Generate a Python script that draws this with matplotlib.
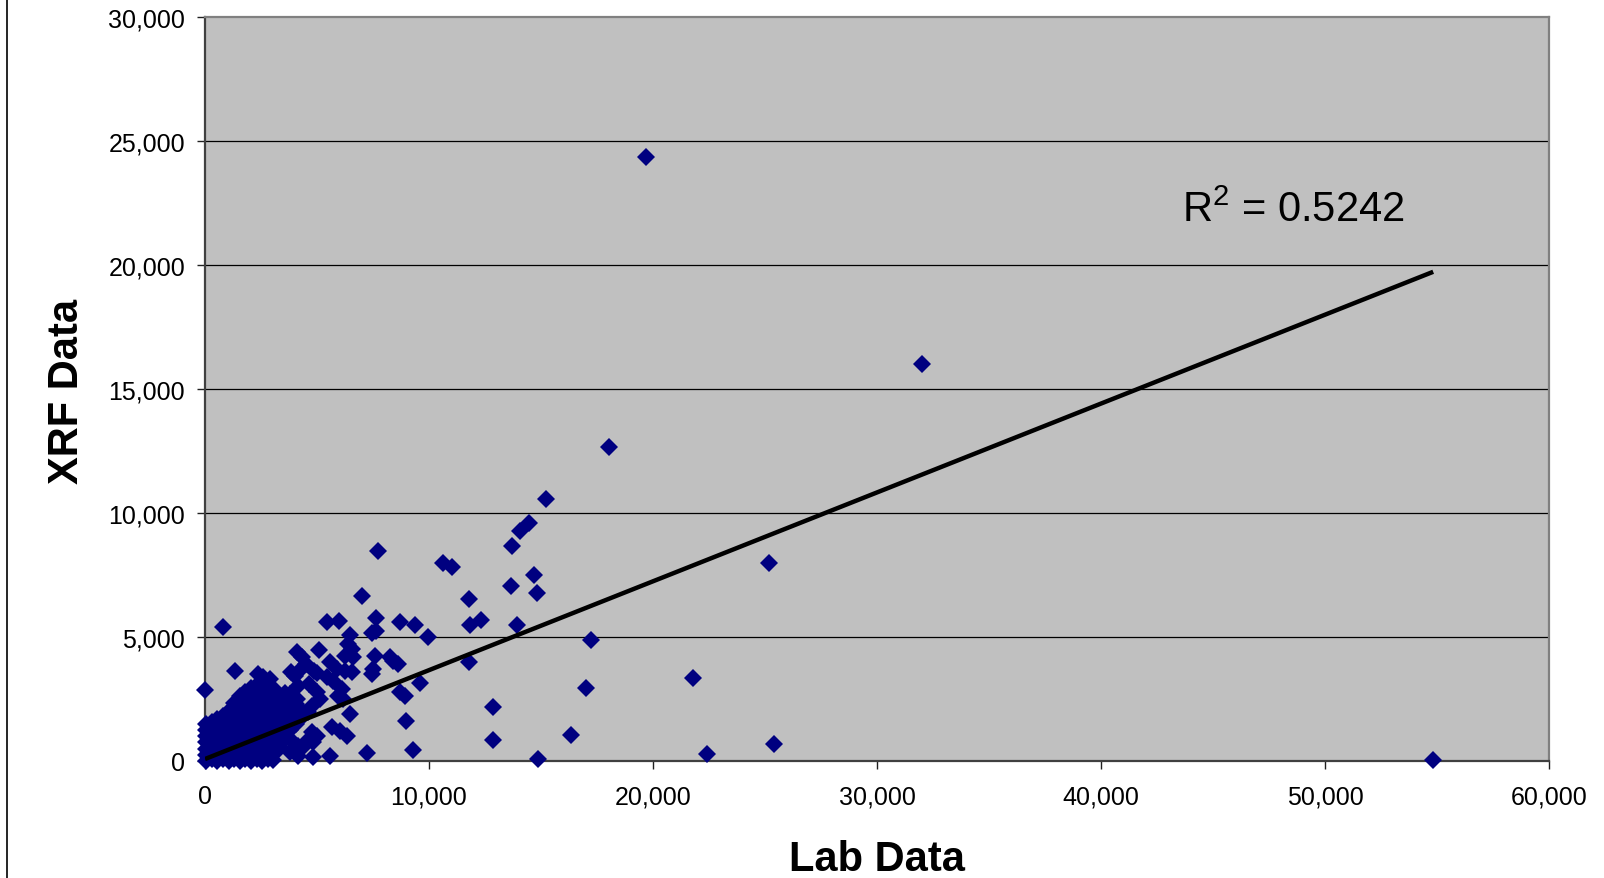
import matplotlib
matplotlib.use("Agg")
import matplotlib.pyplot as plt
from matplotlib.lines import Line2D
from matplotlib.ticker import FuncFormatter
import numpy as np

# ---------------- data ----------------
# dense cluster near the origin, column by column (Lab value -> XRF values)
core_lab_cols = [60, 300, 550, 800, 1050, 1300, 1550, 1800, 2050, 2300,
                 2550, 2800, 3050, 3300, 3550, 3800, 4050, 4300]
core_xrf_cols = [
    [0, 250, 500, 750, 1000, 1250, 1500],
    [100, 350, 600, 850, 1100, 1350, 1580],
    [0, 250, 500, 750, 1000, 1250, 1450, 1680],
    [100, 350, 600, 850, 1100, 1350, 1600, 1820],
    [0, 250, 500, 750, 1000, 1250, 1500, 1750, 2000],
    [100, 350, 600, 850, 1100, 1350, 1600, 1850, 2100, 2350],
    [0, 250, 500, 750, 1000, 1250, 1500, 1750, 2000, 2250, 2620],
    [100, 350, 600, 850, 1100, 1350, 1600, 1850, 2100, 2400, 2800],
    [0, 250, 500, 750, 1000, 1250, 1500, 1750, 2000, 2300, 2600, 2950],
    [100, 350, 600, 850, 1100, 1350, 1600, 1850, 2150, 2450, 2750, 3050],
    [0, 250, 500, 750, 1000, 1250, 1500, 1750, 2000, 2300, 2600, 2900, 3150],
    [100, 350, 600, 850, 1100, 1350, 1600, 1850, 2150, 2450, 2750, 3050],
    [50, 300, 550, 800, 1050, 1300, 1550, 1800, 2100, 2400, 2700, 2950],
    [500, 750, 1000, 1250, 1500, 1750, 2000, 2300, 2600],
    [900, 1150, 1400, 1650, 1900, 2150, 2450, 2750],
    [1250, 1500, 1750, 2000, 2300, 2650],
    [1500, 1750, 2000, 2300],
    [1750, 2000],
]

# scattered points around the cluster
mid_lab = [2903, 2367, 2590, 1355, 0, 790, 4120, 5090, 5570, 4500, 4390, 4850,
           5020, 3820, 4020, 4650, 4154, 4989, 5136, 4765, 3796, 4095, 4243, 4614,
           4319, 5434, 5730, 5882, 6253, 6552, 6105, 5954, 6177, 6476, 5657, 6029,
           6329, 4765, 4989, 4542, 4837, 3944, 4167, 4390, 3350, 3796, 4167, 3052,
           4837, 5583, 7221, 6476, 6400, 6552, 6253, 6623, 5434, 5985, 7637, 8700,
           9379, 7445, 7650, 7593, 8263, 8600, 8400, 7517, 7445, 3408, 3260]
mid_xrf = [3308, 3509, 3376, 3617, 2880, 5417, 4385, 4460, 4010, 3913, 3800, 3650,
           3570, 3610, 3441, 3100, 3037, 2771, 2501, 2230, 2703, 2501, 2098, 1964,
           4183, 3376, 3240, 3711, 3643, 3578, 2904, 2634, 2501, 1896, 1359, 1222,
           1021, 1158, 1021, 819, 754, 754, 617, 553, 553, 351, 214, 351,
           149, 214, 330, 5100, 4720, 4518, 4248, 4183, 5594, 5635, 5756, 5600,
           5498, 5151, 5250, 4248, 4200, 3913, 4050, 3711, 3510, 887, 484]

# points further out
far_lab = [7012, 7741, 10644, 11017, 11791, 13667, 14694, 14813, 13697, 14069,
           14485, 15210, 18027, 19703, 31988, 25193, 17211, 17003, 21795, 16320,
           22404, 25386, 54830, 14886, 12877, 12877, 11804, 11836, 12327, 13920,
           9945, 9602, 8977, 8709, 8933, 9276]
far_xrf = [6668, 8484, 7975, 7813, 6535, 7047, 7503, 6777, 8686, 9290,
           9600, 10590, 12653, 24355, 16015, 7999, 4891, 2955, 3363, 1053,
           289, 696, 30, 80, 2166, 859, 4006, 5498, 5688, 5486,
           5014, 3146, 1626, 2771, 2634, 456]

# linear trend line
trend_intercept = 80
trend_slope = 0.3585
r_squared_label = "0.5242"

x_ticks = [0, 10000, 20000, 30000, 40000, 50000, 60000]
y_ticks = [0, 5000, 10000, 15000, 20000, 25000, 30000]

# ---------------- assemble ----------------
lab = []
xrf = []
for cx, ys in zip(core_lab_cols, core_xrf_cols):
    for yv in ys:
        lab.append(cx)
        xrf.append(yv)
lab += mid_lab + far_lab
xrf += mid_xrf + far_xrf
lab = np.array(lab, dtype=float)
xrf = np.array(xrf, dtype=float)

plt.rcParams['font.family'] = ['Liberation Sans', 'DejaVu Sans']
plt.rcParams['mathtext.fontset'] = 'custom'
plt.rcParams['mathtext.rm'] = 'Liberation Sans'

W, H = 1604, 879
fig = plt.figure(figsize=(W / 100, H / 100), dpi=100)
fig.patch.set_facecolor('white')

L, R, T, B = 205, 1549, 18.4, 762
ax = fig.add_axes([L / W, (H - B) / H, (R - L) / W, (B - T) / H])
ax.set_facecolor('#C0C0C0')
ax.set_xlim(x_ticks[0], x_ticks[-1])
ax.set_ylim(y_ticks[0], y_ticks[-1])

for yv in y_ticks[1:-1]:
    ax.axhline(yv, color='black', lw=0.9, zorder=1)

ax.plot(lab, xrf, linestyle='none', marker='D', ms=9.3, mfc='#000080',
        mec='#000080', mew=0, zorder=3, clip_on=False)

tx = np.array([lab.min(), lab.max()])
ax.plot(tx, trend_intercept + trend_slope * tx, color='black', lw=3.2,
        zorder=4, solid_capstyle='butt')

ax.text(43636, 21783, r'R$^{\mathrm{2}}$ = ' + r_squared_label, fontsize=30,
        ha='left', va='baseline', color='black', zorder=5)

for s in ['left', 'bottom']:
    ax.spines[s].set_color('#404040')
    ax.spines[s].set_linewidth(1.6)
for s in ['top', 'right']:
    ax.spines[s].set_color('#808080')
    ax.spines[s].set_linewidth(1.6)

ax.set_xticks(x_ticks)
ax.set_yticks(y_ticks)
fmt = FuncFormatter(lambda v, p: f"{int(v):,}")
ax.xaxis.set_major_formatter(fmt)
ax.yaxis.set_major_formatter(fmt)
ax.tick_params(axis='both', direction='out', length=5.8, width=1.0,
               color='#202020', labelsize=18, labelcolor='black')
ax.tick_params(axis='x', pad=11)
ax.tick_params(axis='y', pad=8.5)

fig.text(66.7 / W, 1 - 391 / H, 'XRF Data', rotation=90, fontsize=30,
         fontweight='bold', ha='center', va='center')
fig.text(877 / W, (H - 871) / H, 'Lab Data', fontsize=30,
         fontweight='bold', ha='center', va='baseline')

fig.add_artist(Line2D([7 / W, 7 / W], [0, 1], color='black', lw=1.2,
                      transform=fig.transFigure))

fig.savefig('out.png', dpi=100, facecolor='white')
